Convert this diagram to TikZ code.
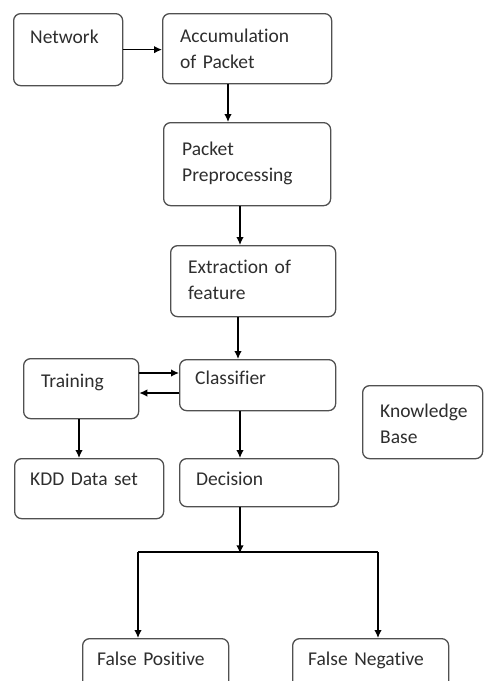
\documentclass[tikz,border=0pt]{standalone}
\usepackage{fontspec}
\setmainfont{Carlito}[Ligatures=NoCommon]
\usepackage{tikz}
\usetikzlibrary{shapes,arrows.meta,calc}
\definecolor{boxgray}{HTML}{505050}
\definecolor{textgray}{HTML}{2E2E2E}
\tikzstyle{block} = [draw=boxgray, line width=1.3pt, rectangle, rounded corners=7pt,
    anchor=north west, inner sep=0pt]
\tikzstyle{boxtext} = [anchor=base west, inner sep=0pt, text width=150pt, align=left,
    text=textgray, font=\fontsize{19.5}{26}\selectfont]
\tikzstyle{line} = [draw, line width=1.4pt]

\begin{document}
\begin{tikzpicture}[x=1pt, y=-1pt, >={Latex[length=8pt,width=7.5pt]}]

\clip (0,0) rectangle (484,681);
\fill[white] (0,0) rectangle (484,681);

% boxes
\node [block, minimum width=109pt, minimum height=72pt] (network) at (13,13) {};
\node [block, minimum width=169pt, minimum height=70pt] (accum) at (162,13) {};
\node [block, minimum width=167pt, minimum height=83pt] (prep) at (163,122) {};
\node [block, minimum width=165pt, minimum height=71pt] (extract) at (170,245) {};
\node [block, minimum width=115pt, minimum height=60pt] (training) at (23,358) {};
\node [block, minimum width=156pt, minimum height=51pt] (classifier) at (179,359) {};
\node [block, minimum width=120pt, minimum height=73pt] (knowledge) at (362,385) {};
\node [block, minimum width=149pt, minimum height=60pt] (kdd) at (14,458) {};
\node [block, minimum width=159pt, minimum height=48pt] (decision) at (179,458) {};
\node [block, minimum width=146pt, minimum height=62pt] (falsepos) at (82,638) {};
\node [block, minimum width=156pt, minimum height=62pt] (falseneg) at (292,638) {};

% texts
\node [boxtext] (networkt) at ($(network.north west)+(17,30)$) {Network};
\node [boxtext] (accumt) at ($(accum.north west)+(18,29)$) {Accumulation\\of Packet};
\node [boxtext] (prept) at ($(prep.north west)+(19,33)$) {Packet\\Preprocessing};
\node [boxtext] (extractt) at ($(extract.north west)+(18,28)$) {Extraction of\\feature};
\node [boxtext] (trainingt) at ($(training.north west)+(18,29)$) {Training};
\node [boxtext] (classifiert) at ($(classifier.north west)+(16,25)$) {Classifier};
\node [boxtext] (knowledget) at ($(knowledge.north west)+(18,32)$) {Knowledge\\Base};
\node [boxtext] (kddt) at ($(kdd.north west)+(16,27)$) {KDD Data set};
\node [boxtext] (decisiont) at ($(decision.north west)+(17,27)$) {Decision};
\node [boxtext] (falsepost) at ($(falsepos.north west)+(15,27)$) {False Positive};
\node [boxtext] (falsenegt) at ($(falseneg.north west)+(16,27)$) {False Negative};

% split point under Decision
\coordinate (split) at ($(decision.south west)+(61,46)$);
\coordinate (splitl) at ($(falsepos.north west)+(56,-86)$);
\coordinate (splitr) at ($(falseneg.north west)+(86,-86)$);

% connectors
\draw [line, ->] (network.east) -- (network.east -| accum.west);
\draw [line, ->] ([xshift=66pt]accum.south west) -- ([xshift=65pt]prep.north west);
\draw [line, ->] ([xshift=77pt]prep.south west) -- ([xshift=70pt]extract.north west);
\draw [line, ->] ([xshift=68pt]extract.south west) -- ([xshift=59pt]classifier.north west);
\draw [line, ->] ([yshift=-15pt]training.north east) -- ([yshift=-14pt]classifier.north west);
\draw [line, ->] ([yshift=-34pt]classifier.north west) -- ([yshift=-35pt]training.north east);
\draw [line, ->] ([xshift=56pt]training.south west) -- ([xshift=65pt]kdd.north west);
\draw [line, ->] ([xshift=61pt]classifier.south west) -- ([xshift=61pt]decision.north west);
\draw [line, ->] ([xshift=61pt]decision.south west) -- (split);
\draw [line] (splitl) -- (splitr);
\draw [line, ->] (splitl) -- (falsepos.north -| splitl);
\draw [line, ->] (splitr) -- (falseneg.north -| splitr);

\end{tikzpicture}
\end{document}
